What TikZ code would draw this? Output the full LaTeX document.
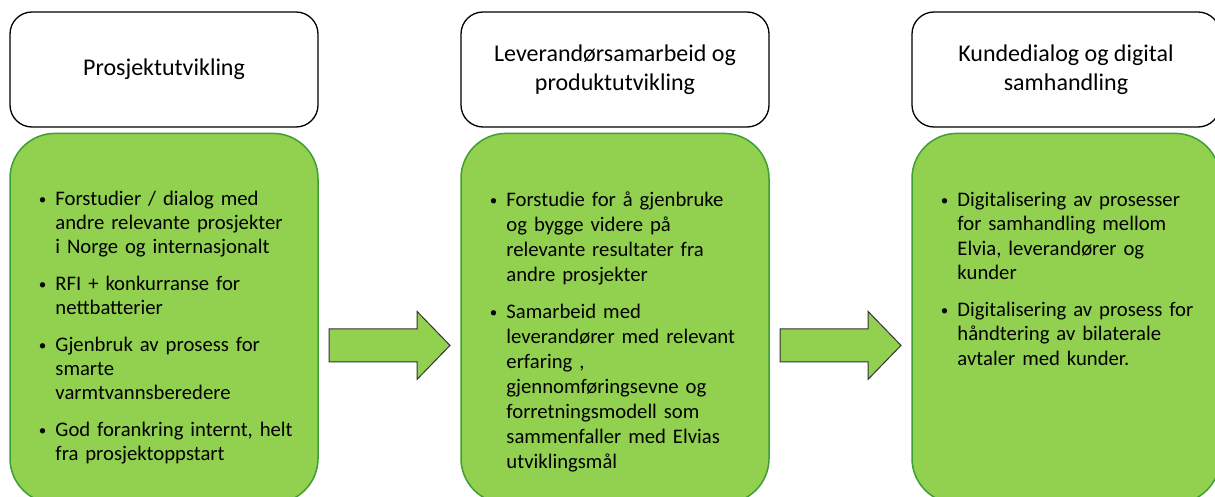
\documentclass[tikz,border=0pt]{standalone}
\usepackage{fontspec}
\setmainfont{Carlito}
\usetikzlibrary{positioning,calc}
\definecolor{leafgreen}{HTML}{92D050}
\definecolor{rimgreen}{HTML}{3E9F33}
\definecolor{pilrim}{HTML}{333333}
\newcommand{\punkt}[1]{\par\hangindent=15pt\hangafter=0\noindent\llap{\raisebox{1pt}{\fontsize{15}{15}\selectfont\textbullet}\hspace{9pt}}#1\par}
\tikzset{
  tittel/.style={draw=black,line width=1.3pt,rounded corners=22pt,fill=white,
    minimum width=308pt,minimum height=115pt,align=center,
    font=\fontsize{24}{28.5}\selectfont},
  feltboks/.style={draw=rimgreen,line width=1.5pt,rounded corners=45pt,fill=leafgreen,
    minimum width=308pt,minimum height=370pt},
  punkttekst/.style={anchor=north west,inner sep=0pt,text width=270pt,
    font=\fontsize{20.7}{#1}\selectfont\raggedright},
  punkttekst/.default=24pt,
  pilstil/.style={draw=pilrim,line width=1pt,fill=leafgreen,line join=miter}
}
\begin{document}
\begin{tikzpicture}[x=1pt,y=-1pt]
\clip (0,0) rectangle (1215,497);
\fill[white] (0,0) rectangle (1215,497);
\node[tittel] (t1) at (164,69.5) {Prosjektutvikling};
\node[tittel] (t2) at (615,69.5) {Leverandørsamarbeid og\\produktutvikling};
\node[tittel] (t3) at (1066,69.5) {Kundedialog og digital\\samhandling};
\node[feltboks,below=5pt of t1] (g1) {};
\node[feltboks,below=5pt of t2] (g2) {};
\node[feltboks,below=5pt of t3] (g3) {};
\node[punkttekst] (p1) at ([xshift=31pt,yshift=-49pt]g1.north west) {%
  \punkt{Forstudier / dialog med\newline andre relevante prosjekter\newline i Norge og internasjonalt}\vskip13pt
  \punkt{RFI + konkurranse for\newline nettbatterier}\vskip13pt
  \punkt{Gjenbruk av prosess for\newline smarte\newline varmtvannsberedere}\vskip13pt
  \punkt{God forankring internt, helt\newline fra prosjektoppstart}};
\node[punkttekst=25pt] (p2) at ([xshift=31pt,yshift=-49pt]g2.north west) {%
  \punkt{Forstudie for å gjenbruke\newline og bygge videre på\newline relevante resultater fra\newline andre prosjekter}\vskip12pt
  \punkt{Samarbeid med\newline leverandører med relevant\newline erfaring ,\newline gjennomføringsevne og\newline forretningsmodell som\newline sammenfaller med Elvias\newline utviklingsmål}};
\node[punkttekst=24.5pt] (p3) at ([xshift=31pt,yshift=-49pt]g3.north west) {%
  \punkt{Digitalisering av prosesser\newline for samhandling mellom\newline Elvia, leverandører og\newline kunder}\vskip12pt
  \punkt{Digitalisering av prosess for\newline håndtering av bilaterale\newline avtaler med kunder.}};
\coordinate (m1) at ($(g1.east)!0.5!(g2.west)+(0,27)$);
\coordinate (m2) at ($(g2.east)!0.5!(g3.west)+(0,27)$);
\foreach \m in {m1,m2}{
  \draw[pilstil] (\m) ++(-60.5,-16.5) -- ++(88,0) -- ++(0,-17.5) -- ++(33,34)
    -- ++(-33,34) -- ++(0,-17.5) -- ++(-88,0) -- cycle;
}
\end{tikzpicture}
\end{document}
